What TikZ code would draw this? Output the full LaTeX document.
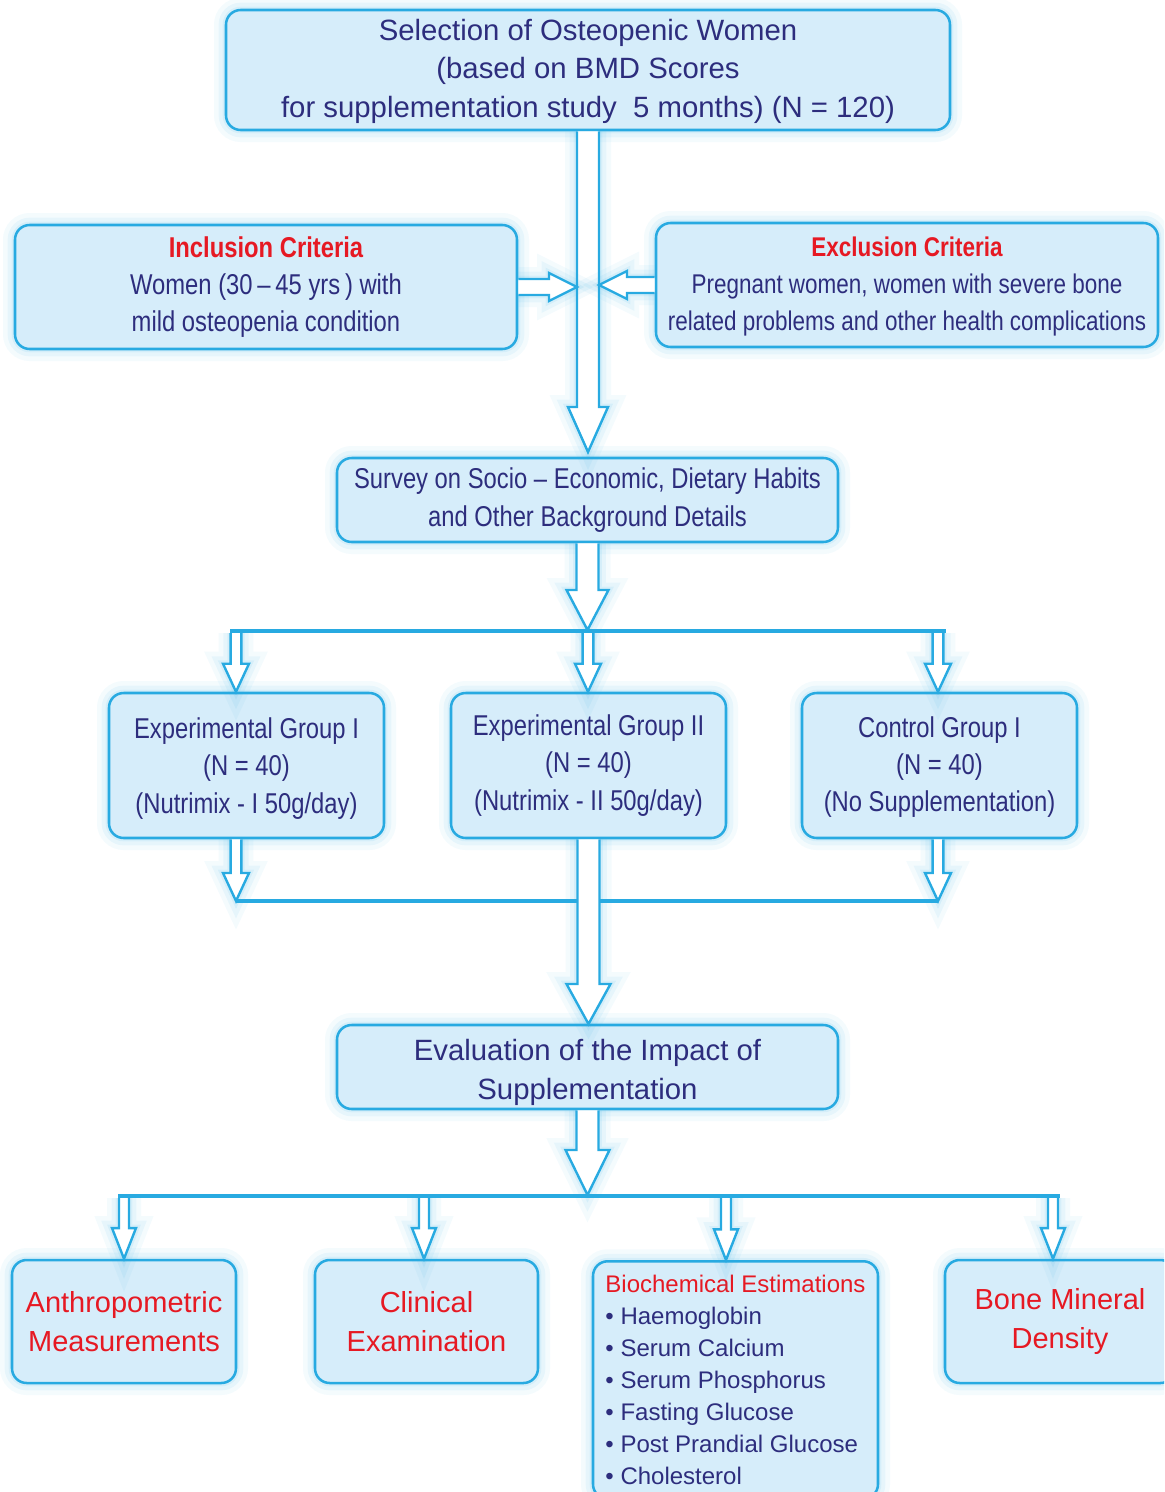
\documentclass[tikz,border=0pt]{standalone}
\usepackage{fontspec}
\setmainfont{Liberation Sans}
\newfontfamily\narrowfont[FakeStretch=0.83]{Liberation Sans}
\usetikzlibrary{calc}
\definecolor{boxfill}{RGB}{214,237,250}
\definecolor{boxline}{RGB}{40,170,225}
\definecolor{navy}{RGB}{45,45,125}
\definecolor{redtxt}{RGB}{230,25,35}
\tikzset{
  glow/.style={preaction={draw=boxline, draw opacity=0.05, line width=18pt},
               preaction={draw=boxline, draw opacity=0.07, line width=11pt},
               preaction={draw=boxline, draw opacity=0.09, line width=5pt}},
  box/.style={glow, draw=boxline, line width=1.9pt, fill=boxfill, rounded corners=11pt,
              align=center, inner sep=0pt, text=navy},
  blockarr/.style={glow, draw=boxline, line width=1.8pt, fill=white, line join=miter},
  bar/.style={draw=boxline, line width=3pt},
  regtext/.style={font=\fontsize{22}{29}\selectfont},
  nartext/.style={font=\narrowfont\fontsize{21.5}{27.9}\selectfont},
  nartextsmall/.style={font=\narrowfont\fontsize{20.3}{27.6}\selectfont},
  redtext/.style={font=\fontsize{21.75}{29.2}\selectfont, text=redtxt},
  biotext/.style={font=\fontsize{18}{24}\selectfont},
}
% vertical (downward) block arrow: start, tip, shaft half width, head half width, head length
\newcommand\vblock[5]{\draw[blockarr] let \p1=(#1), \p2=(#2) in
  (\x1-#3,\y1) -- (\x1-#3,\y2+#5) -- (\x1-#4,\y2+#5) -- (\x1,\y2) --
  (\x1+#4,\y2+#5) -- (\x1+#3,\y2+#5) -- (\x1+#3,\y1);}
% horizontal block arrow: start, tip, shaft half, head half, head length, sign (- rightward, + leftward)
\newcommand\hblock[6]{\draw[blockarr] let \p1=(#1), \p2=(#2) in
  (\x1,\y1+#3) -- (\x2#6#5,\y1+#3) -- (\x2#6#5,\y1+#4) -- (\x2,\y1) --
  (\x2#6#5,\y1-#4) -- (\x2#6#5,\y1-#3) -- (\x1,\y1-#3);}
\begin{document}
\begin{tikzpicture}[x=0.75pt,y=-0.75pt]
\useasboundingbox (0,0) rectangle (1164,1492);
\clip (0,0) rectangle (1164,1492);

% boxes
\node[box, regtext, minimum width=543pt, minimum height=90pt] (top) at (588,70)
  {\rule{0pt}{18pt}Selection of Osteopenic Women\\(based on BMD Scores\\for supplementation study~~5 months) (N = 120)};
\node[box, nartext, minimum width=376.5pt, minimum height=93pt] (incl) at (266,287)
  {\textcolor{redtxt}{\bfseries Inclusion Criteria}\\Women (30\,–\,45 yrs\,) with\\mild osteopenia condition};
\node[box, nartextsmall, minimum width=376.5pt, minimum height=93pt] (excl) at (907,285)
  {\rule{0pt}{17pt}\textcolor{redtxt}{\bfseries Exclusion Criteria}\\Pregnant women, women with severe bone\\related problems and other health complications};
\node[box, nartext, minimum width=375.75pt, minimum height=63pt] (surv) at (587.5,500)
  {Survey on Socio – Economic, Dietary Habits\\and Other Background Details};
\node[box, nartext, minimum width=206.25pt, minimum height=108.75pt] (g1) at (246.5,765.5)
  {\rule{0pt}{20pt}Experimental Group I\\(N = 40)\\(Nutrimix - I 50g/day)};
\node[box, nartext, minimum width=206.25pt, minimum height=108.75pt] (g2) at (588.5,765.5)
  {Experimental Group II\\(N = 40)\\(Nutrimix - II 50g/day)};
\node[box, nartext, minimum width=206.25pt, minimum height=108.75pt] (ctrl) at (939.5,765.5)
  {\rule{0pt}{18pt}Control Group I\\(N = 40)\\(No Supplementation)};
\node[box, regtext, minimum width=375.75pt, minimum height=63pt] (eval) at (587.5,1067)
  {\rule{0pt}{24pt}Evaluation of the Impact of\\Supplementation};
\node[box, redtext, minimum width=168pt, minimum height=92.25pt] (anth) at (124,1321.5)
  {Anthropometric\\Measurements};
\node[box, redtext, minimum width=167.25pt, minimum height=92.25pt] (clin) at (426.5,1321.5)
  {Clinical\\Examination};
\node[box, biotext, align=left, minimum width=213.75pt, inner ysep=10.5pt, anchor=north] (bio) at (735.5,1260)
  {\textcolor{redtxt}{Biochemical Estimations}\\• Haemoglobin\\• Serum Calcium\\• Serum Phosphorus\\• Fasting Glucose\\• Post Prandial Glucose\\• Cholesterol};
\node[box, redtext, minimum width=172.5pt, minimum height=92.25pt] (bmd) at (1060,1321.5)
  {Bone Mineral\\Density};

% top to survey
\coordinate (t1) at (588,452);
\vblock{top.south}{t1}{8.25pt}{15pt}{33.75pt}
\coordinate (t2) at (577,287);
\hblock{incl.east}{t2}{6pt}{10.5pt}{21pt}{-}
\coordinate (t3) at (599,285);
\hblock{excl.west}{t3}{6pt}{10.5pt}{21pt}{+}

% survey to groups
\coordinate (b1l) at (230,631);
\coordinate (b1r) at (946,631);
\draw[bar] (b1l) -- (b1r);
\coordinate (t4) at (588,630);
\vblock{surv.south}{t4}{8.25pt}{15.75pt}{30pt}
\coordinate (s1) at (236,633);
\coordinate (s2) at (588,633);
\coordinate (s3) at (938,633);
\vblock{s1}{g1.north -| s1}{4pt}{9.75pt}{21pt}
\vblock{s2}{g2.north -| s2}{4pt}{9.75pt}{21pt}
\vblock{s3}{ctrl.north -| s3}{4pt}{9.75pt}{21pt}

% groups to evaluation
\coordinate (b2l) at (236,901);
\coordinate (b2r) at (938,901);
\draw[bar] (b2l) -- (b2r);
\vblock{g1.south -| b2l}{b2l}{4pt}{9.75pt}{21pt}
\vblock{ctrl.south -| b2r}{b2r}{4pt}{9.75pt}{21pt}
\coordinate (t5) at (588,1024);
\vblock{g2.south}{t5}{8.25pt}{16.5pt}{30pt}

% evaluation to outcomes
\coordinate (b3l) at (118,1196);
\coordinate (b3r) at (1060,1196);
\draw[bar] (b3l) -- (b3r);
\coordinate (t6) at (588,1195);
\vblock{eval.south}{t6}{8.25pt}{16.5pt}{33.75pt}
\coordinate (u1) at (124,1198);
\coordinate (u2) at (424,1198);
\coordinate (u3) at (726,1198);
\coordinate (u4) at (1053,1198);
\vblock{u1}{anth.north -| u1}{3.75pt}{9pt}{23pt}
\vblock{u2}{clin.north -| u2}{3.75pt}{9pt}{23pt}
\vblock{u3}{bio.north -| u3}{3.75pt}{9pt}{23pt}
\vblock{u4}{bmd.north -| u4}{3.75pt}{9pt}{23pt}
\end{tikzpicture}
\end{document}
